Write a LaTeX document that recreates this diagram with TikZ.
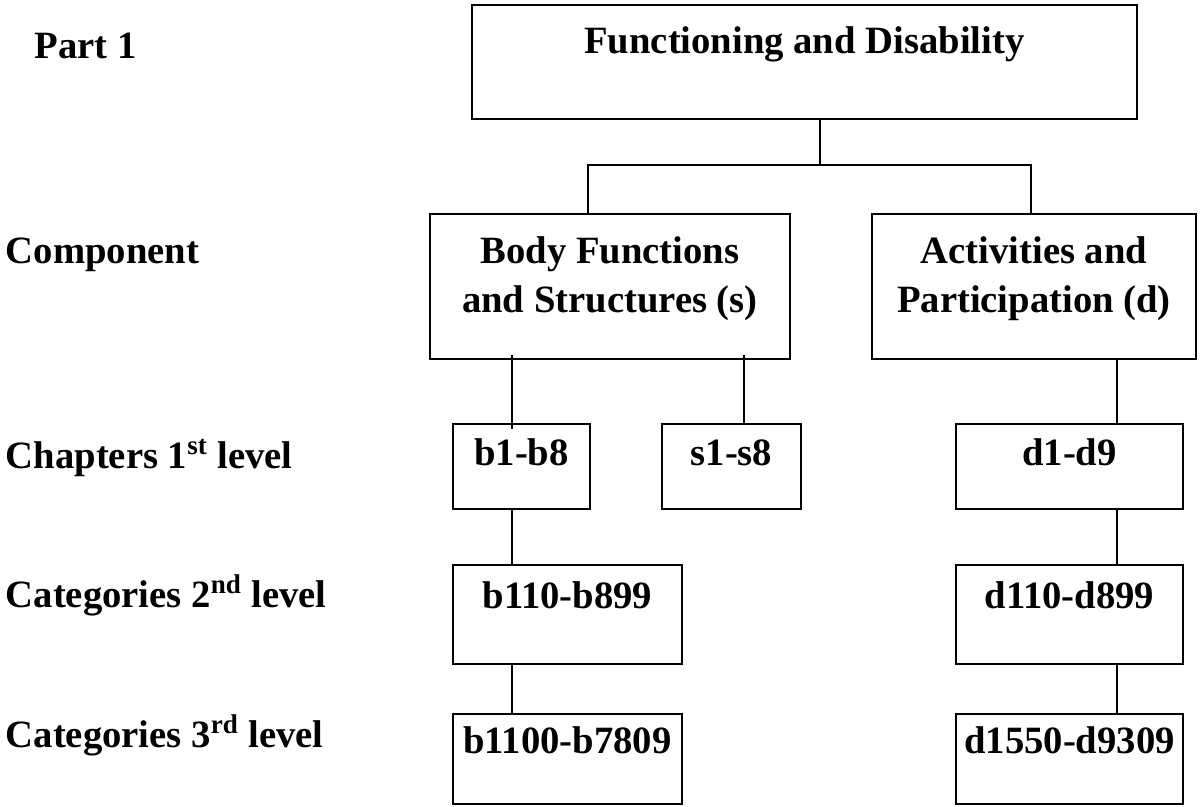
\documentclass[tikz,border=0pt]{standalone}
\usepackage{fontspec}
\setmainfont{Liberation Serif}
\usepackage{tikz}
\usetikzlibrary{positioning}
\tikzset{
	box/.style={draw, anchor=north west, inner sep=0pt, align=center},
	head/.style={box, minimum height=2.28cm, text height=.98cm, text depth=1.3cm},
	comp/.style={box, minimum height=2.9cm, text height=1.98cm, text depth=.92cm},
	lvla/.style={box, minimum height=1.7cm, text height=.84cm, text depth=.86cm},
	lvlb/.style={box, minimum height=1.98cm, text height=.88cm, text depth=1.1cm},
	lvlc/.style={box, minimum height=1.8cm, text height=.8cm, text depth=1cm},
	lab/.style={anchor=base west},
}

\begin{document}
\begin{tikzpicture}[x=0.02cm, y=-0.02cm, line width=1.1pt,
	font=\fontsize{22pt}{28pt}\selectfont\bfseries]
\useasboundingbox (0,0) rectangle (1200,806);
% the boxes
\node[head, minimum width=13.3cm] at (471,4) (fd) {Functioning and Disability};
\node[comp, minimum width=7.2cm] at (429,213) (bfs) {Body Functions\\and Structures (s)};
\node[comp, minimum width=6.48cm] at (871,213) (ap) {Activities and\\Participation (d)};
\node[lvla, minimum width=2.74cm] at (452,423) (b1) {b1-b8};
\node[lvla, minimum width=2.78cm] at (661,423) (s1) {s1-s8};
\node[lvla, minimum width=4.54cm] at (955,423) (d1) {d1-d9};
\node[lvlb, minimum width=4.58cm] at (452,564) (b2) {b110-b899};
\node[lvlb, minimum width=4.54cm] at (955,564) (d2) {d110-d899};
\node[lvlc, minimum width=4.58cm] at (452,713) (b3) {b1100-b7809};
\node[lvlc, minimum width=4.54cm] at (955,713) (d3) {d1550-d9309};

% the lines
\coordinate (split) at (820,165);
\coordinate (lft) at (588,165);
\coordinate (rgt) at (1031,165);
\coordinate (bcol) at (512,0);
\coordinate (scol) at (744,0);
\coordinate (dcol) at (1117,0);
\draw (split |- fd.south) -- (split);
\draw (lft |- bfs.north) -- (lft) -- (rgt) -- (rgt |- ap.north);
\draw ([yshift=.1cm]bcol |- bfs.south) -- ([yshift=-.12cm]bcol |- b1.north);
\draw ([yshift=.1cm]scol |- bfs.south) -- (scol |- s1.north);
\foreach \Up/\Dn in {b1/b2, b2/b3}
	\draw (bcol |- \Up.south) -- (bcol |- \Dn.north);
\foreach \Up/\Dn in {ap/d1, d1/d2, d2/d3}
	\draw (dcol |- \Up.south) -- (dcol |- \Dn.north);

%the names
\node[lab] at (28,58) (lpart) {Part 1};
\node[lab] at (-1,263) (lcomp) {Component};
\node[lab] at (-1,468) (lchap) {Chapters 1\textsuperscript{st} level};
\node[lab] at (-1,607) (lcatb) {Categories 2\textsuperscript{nd} level};
\node[lab] at (-1,747) (lcatc) {Categories 3\textsuperscript{rd} level};
\end{tikzpicture}
\end{document}
